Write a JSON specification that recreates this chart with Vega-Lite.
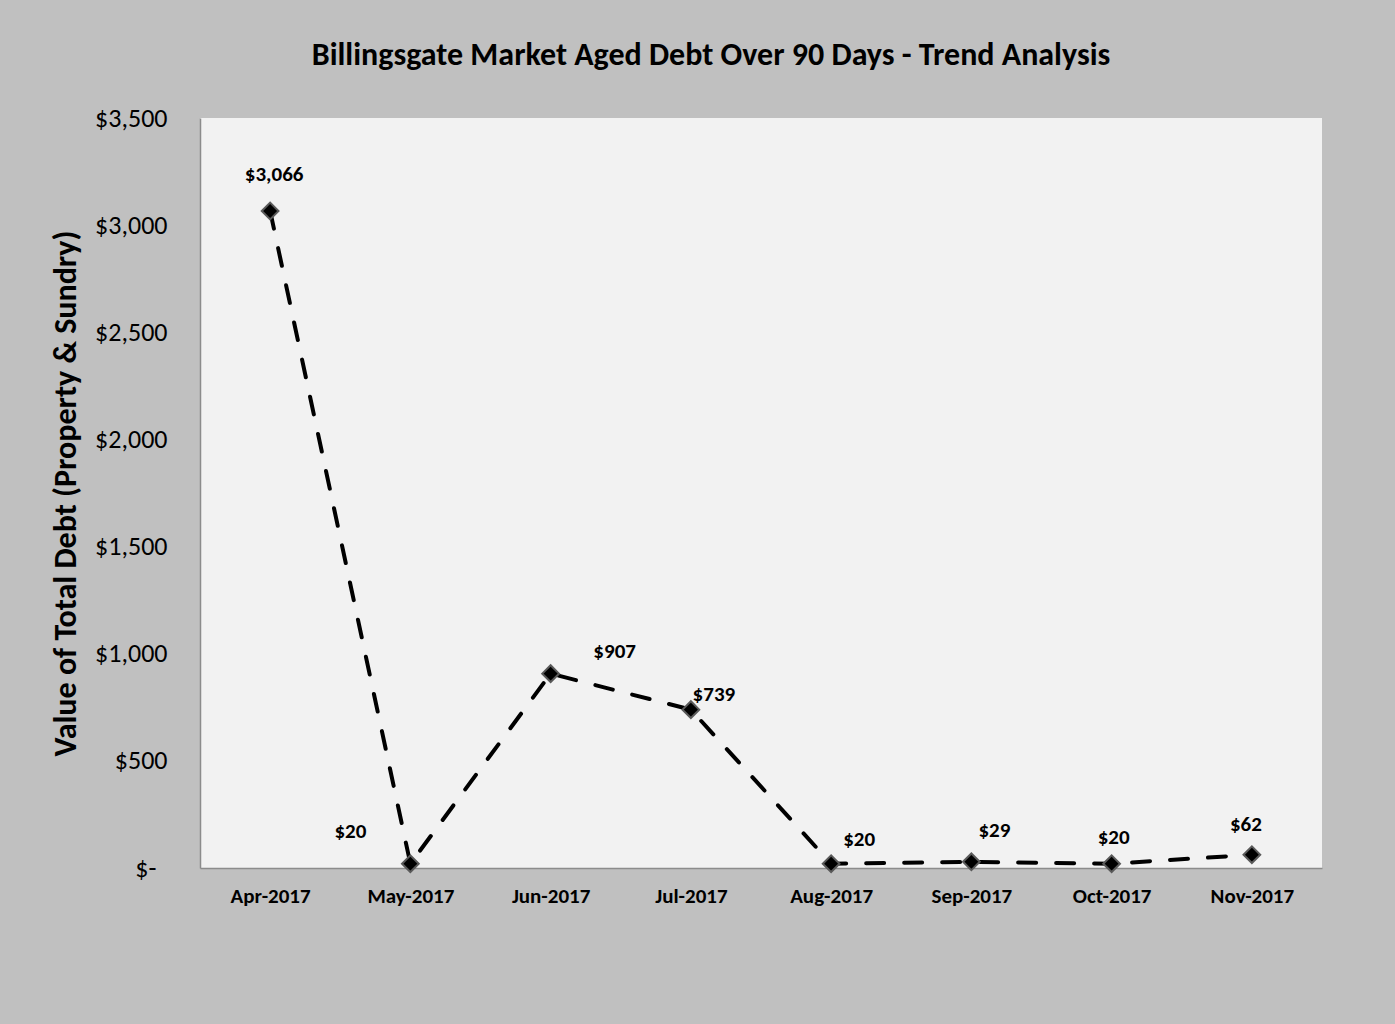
{
  "$schema": "https://vega.github.io/schema/vega-lite/v6.json",
  "width": 1122,
  "height": 750,
  "autosize": {"type": "none"},
  "padding": {"left": 200, "top": 118, "right": 73, "bottom": 156},
  "background": "#c0c0c0",
  "title": {
    "text": "Billingsgate Market Aged Debt Over 90 Days - Trend Analysis",
    "font": "Carlito, Lato",
    "fontSize": 32,
    "fontWeight": "bold",
    "color": "#000000",
    "anchor": "middle",
    "dx": -50,
    "offset": 33
  },
  "data": {
    "values": [
      {"month": "Apr-2017", "debt": 3066},
      {"month": "May-2017", "debt": 20},
      {"month": "Jun-2017", "debt": 907},
      {"month": "Jul-2017", "debt": 739},
      {"month": "Aug-2017", "debt": 20},
      {"month": "Sep-2017", "debt": 29},
      {"month": "Oct-2017", "debt": 20},
      {"month": "Nov-2017", "debt": 62}
    ]
  },
  "encoding": {
    "x": {
      "field": "month",
      "type": "nominal",
      "sort": null,
      "scale": {"paddingInner": 0, "paddingOuter": 0},
      "axis": {
        "title": null,
        "labelAngle": 0,
        "labelFont": "Carlito, Lato",
        "labelFontSize": 21,
        "labelFontWeight": "bold",
        "labelColor": "#000000",
        "labelPadding": 17,
        "ticks": false,
        "domainColor": "#8c8c8c",
        "domainWidth": 1.5
      }
    },
    "y": {
      "field": "debt",
      "type": "quantitative",
      "scale": {"domain": [0, 3500], "nice": false},
      "axis": {
        "title": "Value of Total Debt (Property & Sundry)",
        "titleFont": "Carlito, Lato",
        "titleFontSize": 32,
        "titleFontWeight": "bold",
        "titleColor": "#000000",
        "titlePadding": 12,
        "values": [0, 500, 1000, 1500, 2000, 2500, 3000, 3500],
        "labelExpr": "datum.value == 0 ? '$-' : format(datum.value, '$,')",
        "labelFont": "Carlito, Lato",
        "labelFontSize": 26,
        "labelColor": "#000000",
        "labelPadding": {"condition": {"test": "datum.value == 0", "value": 44}, "value": 33},
        "ticks": false,
        "grid": false,
        "domainColor": "#8c8c8c",
        "domainWidth": 1.5
      }
    }
  },
  "layer": [
    {
      "mark": {"type": "line", "color": "#000000", "strokeWidth": 4, "strokeDash": [18, 20], "strokeCap": "round"}
    },
    {
      "mark": {"type": "point", "shape": "diamond", "size": 280, "filled": true, "fill": "#000000", "stroke": "#5a5a5a", "strokeWidth": 2, "opacity": 1}
    },
    {
      "transform": [{"filter": "datum.month == 'Apr-2017'"}],
      "mark": {"type": "text", "font": "Carlito, Lato", "fontSize": 21, "fontWeight": "bold", "color": "#000000", "dx": 4, "dy": -36},
      "encoding": {"text": {"field": "debt", "type": "quantitative", "format": "$,"}}
    },
    {
      "transform": [{"filter": "datum.month == 'May-2017'"}],
      "mark": {"type": "text", "font": "Carlito, Lato", "fontSize": 21, "fontWeight": "bold", "color": "#000000", "dx": -60, "dy": -32},
      "encoding": {"text": {"field": "debt", "type": "quantitative", "format": "$,"}}
    },
    {
      "transform": [{"filter": "datum.month == 'Jun-2017'"}],
      "mark": {"type": "text", "font": "Carlito, Lato", "fontSize": 21, "fontWeight": "bold", "color": "#000000", "dx": 64, "dy": -22},
      "encoding": {"text": {"field": "debt", "type": "quantitative", "format": "$,"}}
    },
    {
      "transform": [{"filter": "datum.month == 'Jul-2017'"}],
      "mark": {"type": "text", "font": "Carlito, Lato", "fontSize": 21, "fontWeight": "bold", "color": "#000000", "dx": 23, "dy": -15},
      "encoding": {"text": {"field": "debt", "type": "quantitative", "format": "$,"}}
    },
    {
      "transform": [{"filter": "datum.month == 'Aug-2017'"}],
      "mark": {"type": "text", "font": "Carlito, Lato", "fontSize": 21, "fontWeight": "bold", "color": "#000000", "dx": 28, "dy": -24},
      "encoding": {"text": {"field": "debt", "type": "quantitative", "format": "$,"}}
    },
    {
      "transform": [{"filter": "datum.month == 'Sep-2017'"}],
      "mark": {"type": "text", "font": "Carlito, Lato", "fontSize": 21, "fontWeight": "bold", "color": "#000000", "dx": 23, "dy": -31},
      "encoding": {"text": {"field": "debt", "type": "quantitative", "format": "$,"}}
    },
    {
      "transform": [{"filter": "datum.month == 'Oct-2017'"}],
      "mark": {"type": "text", "font": "Carlito, Lato", "fontSize": 21, "fontWeight": "bold", "color": "#000000", "dx": 2, "dy": -26},
      "encoding": {"text": {"field": "debt", "type": "quantitative", "format": "$,"}}
    },
    {
      "transform": [{"filter": "datum.month == 'Nov-2017'"}],
      "mark": {"type": "text", "font": "Carlito, Lato", "fontSize": 21, "fontWeight": "bold", "color": "#000000", "dx": -6, "dy": -30},
      "encoding": {"text": {"field": "debt", "type": "quantitative", "format": "$,"}}
    }
  ],
  "config": {
    "view": {"fill": "#f2f2f2", "stroke": null}
  }
}
